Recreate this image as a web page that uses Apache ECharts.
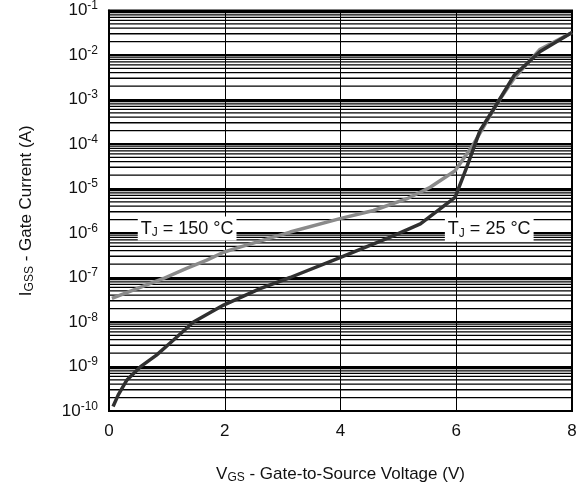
<!DOCTYPE html>
<html>
<head>
<meta charset="utf-8">
<script src="https://cdn.jsdelivr.net/npm/echarts@6/dist/echarts.min.js"></script>
<style>
  html, body { margin: 0; padding: 0; background: #fff; }
  #chart { width: 584px; height: 491px; }
</style>
</head>
<body>
<div id="chart"></div>
<script>
// Gate-to-source voltage (V) and gate leakage current (A), TJ = 25 °C
const vgs25 = [0.07, 0.16, 0.31, 0.54, 0.82, 1.11, 1.46, 1.98, 2.61, 3.13, 3.99, 4.86, 5.38, 5.72, 5.98, 6.18, 6.41, 6.70, 7.00, 7.45, 8.00];
const igss25 = [1.26e-10, 2.3e-10, 5.0e-10, 9.8e-10, 1.8e-9, 3.9e-9, 1.0e-8, 2.4e-8, 5.6e-8, 1.0e-7, 2.8e-7, 8.1e-7, 1.6e-6, 3.5e-6, 6.3e-6, 3.0e-5, 2.0e-4, 7.9e-4, 3.5e-3, 1.2e-2, 3.2e-2];

// TJ = 150 °C
const vgs150 = [0.05, 0.94, 1.34, 1.69, 1.98, 2.26, 3.13, 3.99, 4.57, 5.15, 5.55, 5.98, 6.30, 6.70, 7.00, 7.45, 8.00];
const igss150 = [3.4e-8, 9.5e-8, 1.6e-7, 2.45e-7, 3.7e-7, 4.8e-7, 1.05e-6, 2.1e-6, 3.2e-6, 5.9e-6, 1.07e-5, 2.5e-5, 1.0e-4, 7.9e-4, 3.0e-3, 1.35e-2, 3.2e-2];

// Axis ranges
const xTicks = [0, 2, 4, 6, 8];
const yMin = 1e-10, yMax = 1e-1;

// Curve labels placed at (voltage, current)
const label150 = { sub: 'J', rest: ' = 150 °C', v: 1.35, i: 1.26e-6 };
const label25 = { sub: 'J', rest: ' = 25 °C', v: 6.57, i: 1.2e-6 };

const pairs = (xs, ys) => xs.map((x, k) => [x, ys[k]]);

// Minor log grid at 2..9 x 10^n inside each decade, as broken horizontal segments
const minorGrid = [];
for (let e = -10; e < -1; e++) {
  for (let m = 2; m <= 9; m++) {
    const v = m * Math.pow(10, e);
    minorGrid.push([xTicks[0], v], [xTicks[xTicks.length - 1], v], ['-', '-']);
  }
}

const FONT = 'Liberation Sans, Arial, Helvetica, sans-serif';
const TXT = '#111';

const titleRich = {
  t: { fontFamily: FONT, fontSize: 17, color: TXT, lineHeight: 22 },
  s: { fontFamily: FONT, fontSize: 12, color: TXT, padding: [8, 0, 0, 0], lineHeight: 22 }
};

function curveLabel(lbl) {
  return {
    coord: [lbl.v, lbl.i],
    symbol: 'rect',
    symbolSize: 1,
    itemStyle: { color: 'rgba(0,0,0,0)' },
    label: {
      show: true,
      position: 'inside',
      formatter: '{t|T}{s|' + lbl.sub + '}{t|' + lbl.rest + '}',
      backgroundColor: '#fff',
      padding: [1, 3, 1, 3],
      rich: {
        t: { fontFamily: FONT, fontSize: 18, color: TXT, lineHeight: 22 },
        s: { fontFamily: FONT, fontSize: 12, color: TXT, padding: [8, 0, 0, 0], lineHeight: 22 }
      }
    }
  };
}

const chart = echarts.init(document.getElementById('chart'), null, { renderer: 'canvas' });

chart.setOption({
  animation: false,
  backgroundColor: '#fff',
  grid: {
    left: 109, right: 12, top: 9, bottom: 80,
    show: true, borderColor: '#000', borderWidth: 2, backgroundColor: 'transparent'
  },
  xAxis: {
    type: 'value',
    min: xTicks[0], max: xTicks[xTicks.length - 1], interval: 2,
    axisLine: { show: true, lineStyle: { color: '#000', width: 2 } },
    axisTick: { show: false },
    axisLabel: { color: TXT, fontFamily: FONT, fontSize: 17, margin: 12 },
    splitLine: { show: true, lineStyle: { color: '#000', width: 1 } },
    name: '{t|V}{s|GS}{t| - Gate-to-Source Voltage (V)}',
    nameLocation: 'middle',
    nameGap: 52,
    nameTextStyle: { rich: titleRich }
  },
  yAxis: {
    type: 'log',
    logBase: 10,
    min: yMin, max: yMax,
    splitNumber: 9,
    axisLine: { show: true, lineStyle: { color: '#000', width: 2 } },
    axisTick: { show: false },
    axisLabel: {
      margin: 11,
      formatter: v => '{b|10}{e|' + Math.round(Math.log10(v)) + '}',
      rich: {
        b: { fontFamily: FONT, fontSize: 17, color: TXT, lineHeight: 22 },
        e: { fontFamily: FONT, fontSize: 12, color: TXT, padding: [0, 0, 9, 0], lineHeight: 22 }
      }
    },
    splitLine: { show: true, lineStyle: { color: '#000', width: 2 } },
    name: '{t|I}{s|GSS}{t| - Gate Current (A)}',
    nameLocation: 'middle',
    nameRotate: 90,
    nameGap: 72,
    nameTextStyle: { rich: titleRich }
  },
  series: [
    {
      name: 'minor grid',
      type: 'line',
      z: 1,
      silent: true,
      data: minorGrid,
      connectNulls: false,
      showSymbol: false,
      symbol: 'none',
      lineStyle: { color: '#000', width: 1.3 }
    },
    {
      name: 'TJ = 150 °C',
      type: 'line',
      z: 3,
      data: pairs(vgs150, igss150),
      showSymbol: false,
      symbol: 'none',
      lineStyle: { color: '#8a8a8a', width: 3.5, join: 'round' },
      markPoint: { z: 6, silent: true, data: [curveLabel(label150)] }
    },
    {
      name: 'TJ = 25 °C',
      type: 'line',
      z: 4,
      data: pairs(vgs25, igss25),
      showSymbol: false,
      symbol: 'none',
      lineStyle: { color: '#303030', width: 3.5, join: 'round' },
      markPoint: { z: 6, silent: true, data: [curveLabel(label25)] }
    }
  ]
});
</script>
</body>
</html>
